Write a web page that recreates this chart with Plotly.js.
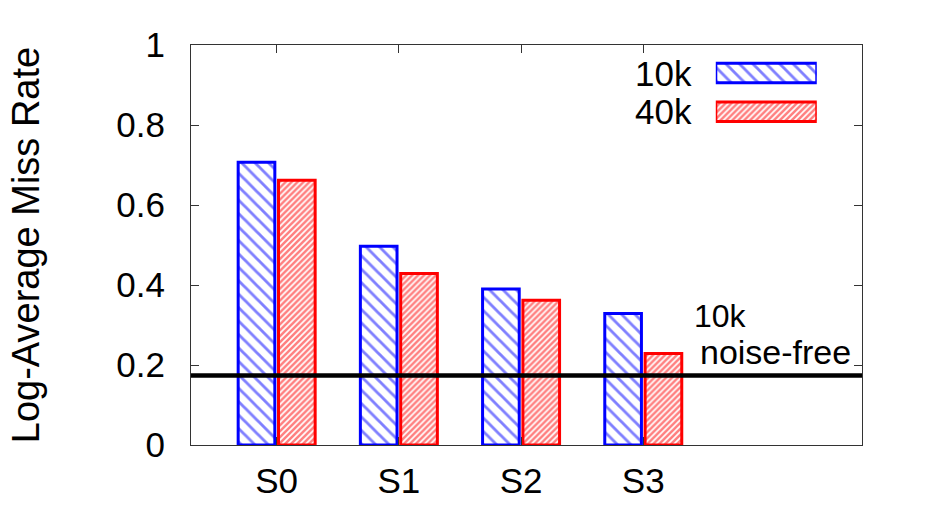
<!DOCTYPE html>
<html>
<head>
<meta charset="utf-8">
<script src="https://cdn.plot.ly/plotly-3.0.1.min.js"></script>
<style>
  html, body { margin: 0; padding: 0; background: #fff; }
  #chart { width: 934px; height: 522px; }
</style>
</head>
<body>
<div id="chart"></div>
<script>
const settings = ['S0', 'S1', 'S2', 'S3'];
const positions = [0, 1, 2, 3];
const rate10k = [0.707, 0.497, 0.390, 0.329];
const rate40k = [0.662, 0.429, 0.362, 0.229];
const noiseFree10k = 0.174;
const legendNames = ['40k', '10k'];

const FONT = 'Liberation Sans, Arial, Helvetica, sans-serif';
const BLUE = '#0000ff';
const RED = '#ff0000';

const barW = 0.3;
const blueHatch = {shape: '\\', size: 9.5, solidity: 0.3};
const redHatch = {shape: '/', size: 4.2, solidity: 0.6};

const trace10k = {
    x: positions,
    y: rate10k,
    type: 'bar',
    name: '10k',
    width: barW,
    offset: -barW - 0.015,
    showlegend: false,
    marker: {
        color: '#ffffff',
        line: {color: BLUE, width: 3},
        pattern: {shape: blueHatch.shape, fgcolor: BLUE, bgcolor: '#ffffff',
                  size: blueHatch.size, solidity: blueHatch.solidity, fillmode: 'overlay'}
    }
};

const trace40k = {
    x: positions,
    y: rate40k,
    type: 'bar',
    name: '40k',
    width: barW,
    offset: 0.015,
    showlegend: false,
    marker: {
        color: '#ffffff',
        line: {color: RED, width: 3},
        pattern: {shape: redHatch.shape, fgcolor: RED, bgcolor: '#ffffff',
                  size: redHatch.size, solidity: redHatch.solidity, fillmode: 'overlay'}
    }
};

// legend keys, drawn as bars on a small hidden subplot
const legendKeys = {
    x: [1, 1],
    y: legendNames,
    base: [0, 0],
    type: 'bar',
    orientation: 'h',
    width: 0.5,
    xaxis: 'x2',
    yaxis: 'y2',
    showlegend: false,
    marker: {
        color: '#ffffff',
        line: {color: [RED, BLUE], width: 3},
        pattern: {
            shape: [redHatch.shape, blueHatch.shape],
            fgcolor: [RED, BLUE],
            bgcolor: '#ffffff',
            size: [redHatch.size, blueHatch.size],
            solidity: [redHatch.solidity, blueHatch.solidity],
            fillmode: 'overlay'
        }
    }
};

const legendLabels = legendNames.map(name => ({
    x: 0, y: name, xref: 'x2', yref: 'y2', text: name, showarrow: false,
    xanchor: 'right', yanchor: 'middle', xshift: -22, font: {size: 35}
}));

const layout = {
    width: 934,
    height: 522,
    margin: {l: 191, r: 72, t: 45, b: 77},
    paper_bgcolor: '#ffffff',
    plot_bgcolor: '#ffffff',
    font: {family: FONT, size: 35, color: '#000'},
    barmode: 'overlay',
    xaxis: {
        range: [-0.701, 4.79],
        tickvals: positions,
        ticktext: settings,
        ticks: 'inside',
        ticklen: 8,
        tickcolor: '#333',
        showline: true,
        linecolor: '#333',
        linewidth: 1,
        mirror: 'ticks',
        showgrid: false,
        zeroline: false,
        ticklabelstandoff: 5,
        tickfont: {size: 35}
    },
    yaxis: {
        range: [0, 1],
        tickvals: [0, 0.2, 0.4, 0.6, 0.8, 1],
        ticktext: ['0', '0.2', '0.4', '0.6', '0.8', '1'],
        ticks: 'inside',
        ticklen: 8,
        tickcolor: '#333',
        showline: true,
        linecolor: '#333',
        linewidth: 1,
        mirror: 'ticks',
        showgrid: false,
        zeroline: false,
        ticklabelstandoff: 18,
        tickfont: {size: 35},
        title: {text: 'Log-Average Miss Rate', font: {size: 38}, standoff: 65}
    },
    xaxis2: {
        domain: [0.7821, 0.9326],
        anchor: 'y2',
        range: [0, 1],
        visible: false,
        fixedrange: true
    },
    yaxis2: {
        domain: [0.7846, 0.9783],
        anchor: 'x2',
        type: 'category',
        categoryarray: legendNames,
        range: [-0.5, 1.5],
        visible: false,
        fixedrange: true
    },
    shapes: [{
        type: 'line',
        xref: 'paper',
        x0: 0,
        x1: 1,
        yref: 'y',
        y0: noiseFree10k,
        y1: noiseFree10k,
        line: {color: '#000', width: 4.5},
        layer: 'above'
    }],
    annotations: [
        {x: 3.399, y: 0.323, xref: 'x', yref: 'y', text: '10k', showarrow: false,
         xanchor: 'left', yanchor: 'middle', font: {size: 32}},
        {x: 3.45, y: 0.233, xref: 'x', yref: 'y', text: 'noise-free', showarrow: false,
         xanchor: 'left', yanchor: 'middle', font: {size: 34}}
    ].concat(legendLabels)
};

Plotly.newPlot('chart', [trace10k, trace40k, legendKeys], layout, {displayModeBar: false, staticPlot: true});
</script>
</body>
</html>
